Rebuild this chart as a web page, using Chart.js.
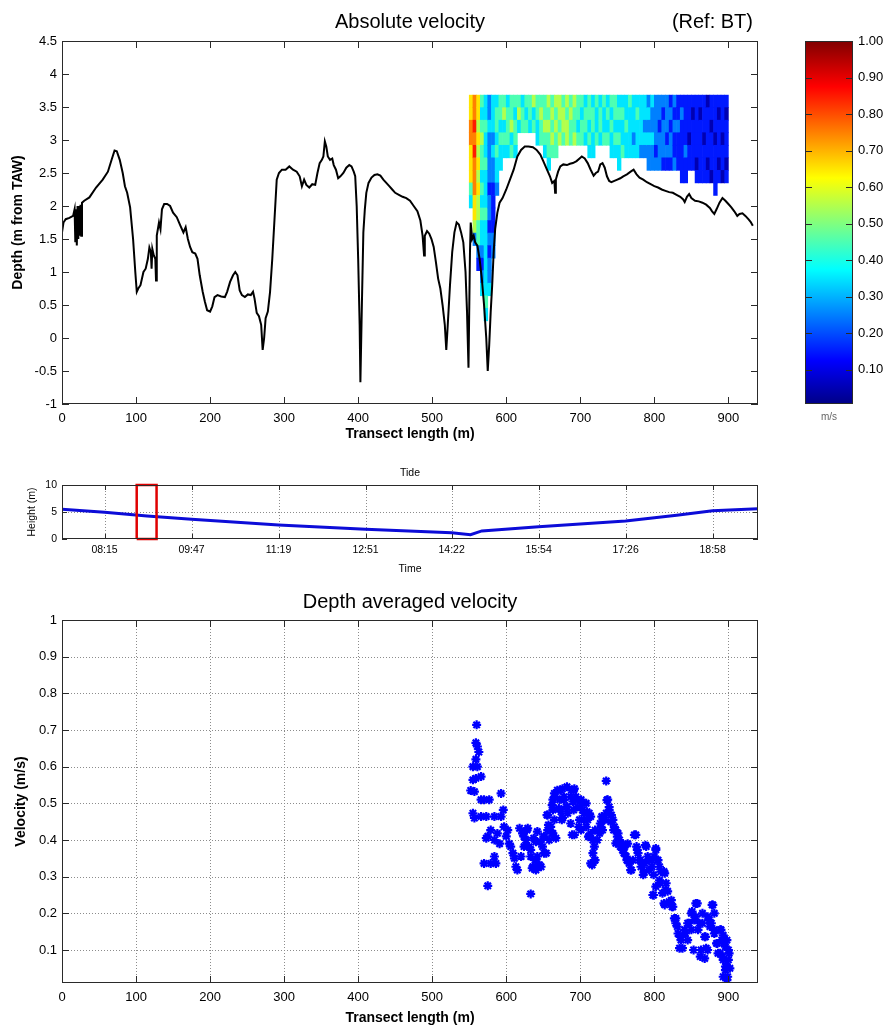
<!DOCTYPE html>
<html>
<head>
<meta charset="utf-8">
<script src="https://cdn.jsdelivr.net/npm/chart.js@4.4.1/dist/chart.umd.min.js"></script>
<style>
  html, body { margin: 0; padding: 0; background: #fff; }
  body { width: 892px; height: 1028px; position: relative; overflow: hidden; }
  .panel { position: absolute; }
</style>
</head>
<body>
<div class="panel" style="left:0;top:0;width:892px;height:450px"><canvas id="depthChart"></canvas></div>
<div class="panel" style="left:790px;top:0;width:102px;height:450px"><canvas id="colorbar"></canvas></div>
<div class="panel" style="left:0;top:455px;width:892px;height:125px"><canvas id="tideChart"></canvas></div>
<div class="panel" style="left:0;top:580px;width:892px;height:448px"><canvas id="avgChart"></canvas></div>
<script>
// ---- bed profile (transect length m, depth m from TAW)
const bedX = [
  0, 2, 5, 10, 15, 17, 18, 19, 20, 21,
  22, 23, 24, 25, 26, 27, 30, 37, 46, 55,
  62, 67, 71, 74, 78, 82, 85, 88, 92, 96,
  99, 101, 103, 106, 110, 113, 116, 118, 120, 121,
  122, 124, 126, 127, 128, 131, 133, 135, 138, 142,
  146, 150, 155, 160, 164, 167, 170, 173, 176, 180,
  183, 186, 190, 193, 196, 200, 203, 206, 210, 215,
  220, 223, 227, 231, 234, 237, 240, 243, 247, 251,
  255, 258, 260, 263, 266, 269, 271, 273, 275, 278,
  281, 284, 287, 290, 293, 297, 302, 307, 312, 317,
  321, 324, 327, 330, 334, 338, 342, 345, 348, 351,
  353, 355, 357, 359, 362, 365, 367, 370, 373, 376,
  380, 384, 388, 391, 394, 396, 398, 400, 402, 403,
  405, 407, 409, 411, 414, 418, 422, 426, 430, 434,
  438, 442, 446, 450, 455, 460, 465, 470, 475, 480,
  484, 487, 489, 490, 493, 496, 499, 502, 505, 508,
  511, 514, 517, 519, 521, 524, 527, 530, 533, 536,
  539, 542, 545, 547, 549, 551, 552, 554, 556, 558,
  561, 564, 567, 570, 573, 575, 577, 579, 581, 583,
  585, 588, 591, 595, 600, 605, 610, 615, 620, 625,
  630, 636, 641, 646, 650, 655, 659, 662, 665, 666,
  667, 670, 673, 677, 682, 686, 690, 695, 699, 702,
  706, 710, 714, 718, 721, 724, 727, 730, 733, 736,
  739, 742, 746, 750, 754, 758, 763, 768, 772, 776,
  780, 785, 790, 795, 800, 805, 810, 815, 820, 825,
  830, 835, 839, 841, 844, 847, 850, 855, 860, 865,
  870, 875, 878, 881, 884, 888, 892, 896, 900, 904,
  908, 912, 915, 919, 923, 927, 930, 933
];
const bedDepth = [
  1.60, 1.75, 1.80, 1.82, 1.85, 1.95, 1.45, 1.95, 1.40, 2.00,
  1.50, 2.00, 1.55, 2.02, 1.55, 2.05, 2.08, 2.13, 2.28, 2.40,
  2.52, 2.70, 2.84, 2.83, 2.70, 2.50, 2.30, 2.20, 1.98, 1.50,
  1.00, 0.70, 0.75, 0.80, 1.00, 1.05, 1.20, 1.37, 1.30, 1.05,
  1.35, 1.25, 1.20, 0.87, 1.55, 1.75, 1.65, 1.95, 2.03, 2.03,
  2.00, 1.90, 1.83, 1.70, 1.60, 1.68, 1.50, 1.38, 1.30, 1.28,
  1.20, 0.95, 0.70, 0.55, 0.42, 0.40, 0.48, 0.62, 0.65, 0.63,
  0.62, 0.70, 0.85, 0.95, 1.00, 0.95, 0.72, 0.65, 0.62, 0.66,
  0.65, 0.70, 0.60, 0.38, 0.33, 0.20, -0.18, 0.00, 0.30, 0.40,
  0.70, 1.20, 1.80, 2.40, 2.50, 2.55, 2.55, 2.60, 2.55, 2.52,
  2.45, 2.30, 2.40, 2.32, 2.28, 2.33, 2.32, 2.50, 2.65, 2.70,
  2.75, 2.98, 2.90, 2.75, 2.70, 2.72, 2.62, 2.55, 2.42, 2.45,
  2.50, 2.58, 2.62, 2.60, 2.52, 2.45, 2.00, 1.20, 0.20, -0.67,
  0.50, 1.60, 1.95, 2.20, 2.35, 2.43, 2.47, 2.48, 2.46, 2.40,
  2.35, 2.30, 2.25, 2.20, 2.17, 2.14, 2.12, 2.08, 2.00, 1.92,
  1.78, 1.55, 1.25, 1.55, 1.62, 1.58, 1.50, 1.38, 1.15, 0.90,
  0.75, 0.50, 0.20, -0.18, 0.20, 0.80, 1.30, 1.60, 1.75, 1.72,
  1.60, 1.45, 1.00, 0.40, -0.45, 1.30, 1.75, 1.50, 1.55, 1.45,
  1.40, 1.20, 0.90, 0.50, 0.00, -0.50, -0.10, 0.40, 0.80, 1.30,
  1.65, 1.90, 2.05, 2.12, 2.25, 2.40, 2.55, 2.75, 2.85, 2.90,
  2.90, 2.89, 2.85, 2.78, 2.68, 2.55, 2.45, 2.35, 2.38, 2.20,
  2.40, 2.52, 2.60, 2.63, 2.62, 2.64, 2.65, 2.68, 2.72, 2.75,
  2.72, 2.65, 2.55, 2.46, 2.50, 2.52, 2.63, 2.65, 2.58, 2.45,
  2.38, 2.36, 2.38, 2.40, 2.42, 2.45, 2.48, 2.52, 2.55, 2.48,
  2.43, 2.40, 2.36, 2.33, 2.30, 2.28, 2.25, 2.23, 2.21, 2.20,
  2.17, 2.14, 2.10, 2.06, 2.14, 2.18, 2.12, 2.08, 2.07, 2.05,
  2.02, 1.97, 1.92, 1.88, 1.95, 2.05, 2.12, 2.08, 2.03, 1.98,
  1.92, 1.85, 1.88, 1.89, 1.85, 1.80, 1.76, 1.70
];

// ---- velocity section: one string per 5 m column starting at 550 m,
// one digit per 0.19 m bin from 3.68 m down; digit d = (d + 0.5) / 10 m/s
const heatStart = 550;
const heatColWidth = 5;
const heatTop = 3.68;
const heatBin = 0.19;
const heatColumns = [
  '667766643', '778787776652', '66565656554421', '4345443434332123',
  '334334333433333343', '2232222122121223', '3332322111122', '34434332',
  '443433', '45343', '34443', '44534', '43443',
  '453', '344', '434', '443', '534',
  '4433', '4544', '44543', '545443', '45454', '54544',
  '5545', '4554', '5455', '4544', '5445', '4434', '4344', '3443',
  '44343', '34433', '4334', '3443', '4334', '3434', '43433', '44343',
  '343433', '34334', '33433', '43333', '33323', '34333', '33332', '33232',
  '232322', '322322', '222212', '221222', '212221', '222121', '121221', '212112',
  '112111', '1211111', '1111211', '111011', '101111', '1111101', '1011111', '1110111',
  '0111101', '1101110', '11101111', '1011101', '1110110', '1011101'
];

// ---- depth averaged velocity
const avgDistance = [
  560, 559, 561, 563, 559, 555, 561, 566, 555, 559, 552, 557, 566, 570, 577, 555, 557, 566, 573, 584,
  593, 596, 593, 579, 575, 573, 588, 584, 591, 597, 602, 600, 604, 584, 570, 579, 586, 575,
  606, 609, 611, 613, 615, 620, 618, 622, 629, 627, 631, 624, 633, 636, 640, 642, 645, 647, 640, 633,
  649, 651, 654, 656, 658, 660, 663, 665, 667, 656, 663, 628, 624, 626, 633, 639, 644, 651, 635, 637,
  642, 646, 651, 655, 657, 662,
  663, 665, 669, 672, 676, 678, 681, 674, 683, 676, 688, 692, 694, 696, 690, 701, 703, 699, 692, 705,
  708, 710, 712, 708, 701, 673, 682, 691, 666, 678, 687, 696, 702, 662, 671, 682, 691, 709, 714, 675,
  687, 698, 705, 689,
  714, 717, 712, 719, 723, 726, 728, 733, 730, 735, 737, 739, 735, 742, 744, 746, 748, 751, 753, 717,
  719, 714, 716, 720, 711, 720, 727, 729, 736, 739, 732, 741, 745, 750, 748, 754, 755, 757, 760, 759,
  762, 764, 766, 769, 771, 773, 776, 778, 780, 782, 785, 787, 789, 791, 793, 796, 800, 802, 805, 807,
  798, 802, 807, 809, 814, 816, 811, 818, 823, 814, 825, 763, 768, 775, 777, 781, 786, 788, 793, 797,
  802, 804, 799, 813, 808, 815, 799, 813, 820, 824,
  827, 829, 832, 834, 836, 841, 845, 850, 854, 856, 859, 861, 863, 868, 870, 872, 875, 879, 881, 884,
  886, 889, 891, 893, 896, 898, 900, 902, 896, 898, 900, 893, 845, 850, 856, 865, 868, 877, 881, 889,
  893, 898, 829, 831, 835, 838, 842, 847, 851, 858, 853, 862, 865, 869, 874, 878, 881, 885, 890, 892,
  896, 899, 901, 894, 872
];
const avgVelocity = [
  0.714, 0.665, 0.655, 0.640, 0.620, 0.600, 0.600, 0.573, 0.564, 0.568, 0.535, 0.532, 0.510, 0.510, 0.510, 0.473, 0.460, 0.464, 0.464, 0.464,
  0.527, 0.482, 0.464, 0.427, 0.410, 0.405, 0.418, 0.400, 0.390, 0.436, 0.427, 0.410, 0.390, 0.355, 0.336, 0.336, 0.336, 0.275,
  0.382, 0.364, 0.350, 0.327, 0.318, 0.355, 0.432, 0.418, 0.432, 0.400, 0.382, 0.382, 0.355, 0.327, 0.395, 0.355, 0.332, 0.327, 0.318, 0.253,
  0.382, 0.410, 0.364, 0.427, 0.400, 0.436, 0.418, 0.455, 0.405, 0.468, 0.482, 0.427, 0.409, 0.386, 0.373, 0.345, 0.332, 0.364, 0.323, 0.405,
  0.423, 0.395, 0.409, 0.468, 0.441, 0.418,
  0.510, 0.527, 0.536, 0.510, 0.540, 0.518, 0.490, 0.477, 0.473, 0.460, 0.536, 0.540, 0.518, 0.490, 0.505, 0.510, 0.482, 0.455, 0.414, 0.473,
  0.436, 0.455, 0.473, 0.500, 0.427, 0.536, 0.545, 0.536, 0.518, 0.509, 0.518, 0.509, 0.500, 0.495, 0.486, 0.491, 0.482, 0.477, 0.464, 0.455,
  0.445, 0.436, 0.455, 0.414,
  0.418, 0.400, 0.410, 0.382, 0.400, 0.418, 0.436, 0.455, 0.427, 0.561, 0.510, 0.490, 0.473, 0.468, 0.455, 0.436, 0.427, 0.418, 0.400, 0.364,
  0.345, 0.336, 0.332, 0.345, 0.409, 0.427, 0.445, 0.464, 0.509, 0.482, 0.455, 0.450, 0.427, 0.409, 0.391, 0.382, 0.390, 0.373, 0.382, 0.364,
  0.355, 0.390, 0.336, 0.318, 0.345, 0.414, 0.382, 0.364, 0.345, 0.327, 0.305, 0.336, 0.382, 0.355, 0.318, 0.345, 0.355, 0.377, 0.345, 0.327,
  0.250, 0.273, 0.290, 0.314, 0.309, 0.282, 0.255, 0.260, 0.236, 0.223, 0.218, 0.345, 0.318, 0.414, 0.373, 0.345, 0.314, 0.386, 0.345, 0.327,
  0.373, 0.345, 0.305, 0.314, 0.282, 0.264, 0.250, 0.227, 0.232, 0.218,
  0.186, 0.173, 0.145, 0.105, 0.127, 0.155, 0.173, 0.200, 0.182, 0.227, 0.155, 0.173, 0.100, 0.077, 0.105, 0.191, 0.164, 0.223, 0.145, 0.118,
  0.091, 0.155, 0.127, 0.073, 0.045, 0.018, 0.073, 0.050, 0.109, 0.127, 0.100, 0.140, 0.127, 0.155, 0.191, 0.200, 0.136, 0.173, 0.200, 0.091,
  0.027, 0.055, 0.186, 0.164, 0.136, 0.105, 0.145, 0.173, 0.205, 0.227, 0.100, 0.082, 0.173, 0.136, 0.182, 0.223, 0.155, 0.118, 0.155, 0.082,
  0.055, 0.027, 0.091, 0.118, 0.100
];

// ---- tide
const tideTimes = ['07:30', '08:15', '09:00', '09:47', '11:19', '12:51', '14:22', '14:42', '14:54', '15:54', '17:26', '18:20', '18:58', '19:46'];
const tideHeights = [5.5, 4.94, 4.25, 3.64, 2.6, 1.8, 1.15, 0.8, 1.5, 2.28, 3.33, 4.4, 5.24, 5.6];
const tideRange = ['07:30', '19:46'];
const transectWindow = ['08:49', '09:10'];

// ---- ticks
const depthTicksX = [0, 100, 200, 300, 400, 500, 600, 700, 800, 900];
const depthTicksY = [-1, -0.5, 0, 0.5, 1, 1.5, 2, 2.5, 3, 3.5, 4, 4.5];
const velocityTicksY = [0.1, 0.2, 0.3, 0.4, 0.5, 0.6, 0.7, 0.8, 0.9, 1];
const tideTickLabels = ['08:15', '09:47', '11:19', '12:51', '14:22', '15:54', '17:26', '18:58'];
const tideTicksY = [0, 5, 10];
const colorbarTicks = [0.1, 0.2, 0.3, 0.4, 0.5, 0.6, 0.7, 0.8, 0.9, 1.0];
const jetStops = [0, 0.125, 0.375, 0.625, 0.875, 1];

const FONT = '"Liberation Sans", Arial, Helvetica, sans-serif';
Chart.defaults.font.family = FONT;
Chart.defaults.color = '#000';
Chart.defaults.animation = false;
Chart.defaults.plugins.legend.display = false;
Chart.defaults.plugins.tooltip.enabled = false;

function jetColor(v) {
  const ch = a => Math.round(255 * Math.max(0, Math.min(1, a)));
  return `rgb(${ch(Math.min(4 * v - 1.5, -4 * v + 4.5))},${ch(Math.min(4 * v - 0.5, -4 * v + 3.5))},${ch(Math.min(4 * v + 0.5, -4 * v + 2.5))})`;
}
const toMinutes = s => { const [h, m] = s.split(':').map(Number); return h * 60 + m; };
const toClock = v => String(Math.floor(v / 60)).padStart(2, '0') + ':' + String(Math.round(v % 60)).padStart(2, '0');

// title text above the plot box, centred on it
const panelTitle = {
  id: 'panelTitle',
  afterDraw(chart, args, opts) {
    const { ctx, chartArea: a } = chart;
    ctx.save();
    ctx.fillStyle = '#000';
    ctx.font = `${opts.size}px ${FONT}`;
    ctx.textBaseline = 'middle';
    ctx.textAlign = 'center';
    ctx.fillText(opts.text, (a.left + a.right) / 2, a.top - opts.offset);
    if (opts.note) {
      ctx.textAlign = 'right';
      ctx.fillText(opts.note, a.right - 5, a.top - opts.offset);
    }
    ctx.restore();
  }
};

// matlab look: dotted grid, inward ticks on all sides, box
const matlabAxes = {
  id: 'matlabAxes',
  beforeDatasetsDraw(chart, args, opts) {
    if (!opts.gridX && !opts.gridY) return;
    const { ctx, chartArea: a, scales: { x, y } } = chart;
    ctx.save();
    ctx.strokeStyle = '#8c8c8c';
    ctx.lineWidth = 1;
    ctx.setLineDash([1, 2]);
    ctx.beginPath();
    if (opts.gridX) x.ticks.forEach(t => {
      const px = Math.round(x.getPixelForValue(t.value)) + 0.5;
      if (px > a.left + 1 && px < a.right - 1) { ctx.moveTo(px, a.top); ctx.lineTo(px, a.bottom); }
    });
    if (opts.gridY) y.ticks.forEach(t => {
      const py = Math.round(y.getPixelForValue(t.value)) + 0.5;
      if (py > a.top + 1 && py < a.bottom - 1) { ctx.moveTo(a.left, py); ctx.lineTo(a.right, py); }
    });
    ctx.stroke();
    ctx.restore();
  },
  afterDatasetsDraw(chart, args, opts) {
    const { ctx, chartArea: a, scales: { x, y } } = chart;
    const L = opts.tickLength;
    ctx.save();
    ctx.strokeStyle = '#2a2a2a';
    ctx.lineWidth = 1;
    ctx.beginPath();
    if (opts.xTicks !== false) x.ticks.forEach(t => {
      const px = Math.round(x.getPixelForValue(t.value)) + 0.5;
      ctx.moveTo(px, a.bottom); ctx.lineTo(px, a.bottom - L);
      ctx.moveTo(px, a.top); ctx.lineTo(px, a.top + L);
    });
    y.ticks.forEach(t => {
      const py = Math.round(y.getPixelForValue(t.value)) + 0.5;
      ctx.moveTo(a.left, py); ctx.lineTo(a.left + L, py);
      ctx.moveTo(a.right, py); ctx.lineTo(a.right - L, py);
    });
    ctx.stroke();
    ctx.strokeRect(Math.round(a.left) + 0.5, Math.round(a.top) + 0.5, Math.round(a.width) - 1, Math.round(a.height) - 1);
    ctx.restore();
  }
};

function xAxis(min, max, ticks, height, title, labelSize, labelPad, titleSize, titlePad, format) {
  return {
    type: 'linear', min, max, offset: false,
    afterBuildTicks: s => { s.ticks = ticks.map(v => ({ value: v })); },
    afterFit: s => { s.height = height; },
    grid: { display: false, drawTicks: false, offset: false },
    border: { display: false },
    ticks: { autoSkip: false, maxRotation: 0, padding: labelPad, font: { size: labelSize }, callback: format || (v => String(v)) },
    title: { display: true, text: title, font: { size: titleSize, weight: titleSize > 12 ? 'bold' : 'normal' }, padding: { top: 0, bottom: titlePad } }
  };
}
function yAxis(min, max, ticks, width, title, labelSize, titleSize, titlePad) {
  return {
    type: 'linear', min, max,
    afterBuildTicks: s => { s.ticks = ticks.map(v => ({ value: v })); },
    afterFit: s => { s.width = width; },
    grid: { display: false, drawTicks: false },
    border: { display: false },
    ticks: { autoSkip: false, padding: 5, font: { size: labelSize }, callback: v => String(v) },
    title: { display: true, text: title, font: { size: titleSize, weight: titleSize > 12 ? 'bold' : 'normal' }, padding: { top: titlePad, bottom: 0 } }
  };
}

// ---- absolute velocity section
const bedPoints = bedX.map((x, i) => ({ x, y: bedDepth[i] }));
const heatCells = [];
heatColumns.forEach((col, c) => {
  const xc = heatStart + (c + 0.5) * heatColWidth;
  [...col].forEach((ch, r) => {
    const top = heatTop - r * heatBin;
    heatCells.push({ x: xc, y: [top - heatBin, top], v: (Number(ch) + 0.5) / 10 });
  });
});

new Chart(document.getElementById('depthChart'), {
  type: 'line',
  data: {
    datasets: [
      { type: 'line', data: bedPoints, borderColor: '#000', borderWidth: 2, pointRadius: 0, tension: 0, order: 1 },
      {
        type: 'bar', data: heatCells, borderWidth: 0, barPercentage: 1, categoryPercentage: 1, order: 2,
        backgroundColor: c => (c.raw ? jetColor(c.raw.v) : 'transparent')
      }
    ]
  },
  options: {
    responsive: true, maintainAspectRatio: false,
    layout: { padding: { top: 41, right: 134, bottom: 0, left: 0 } },
    scales: {
      x: xAxis(0, 940, depthTicksX, 46, 'Transect length (m)', 13, 7, 14, 7),
      y: yAxis(-1, 4.5, depthTicksY, 62, 'Depth (m from TAW)', 13, 14, 10)
    },
    plugins: {
      panelTitle: { text: 'Absolute velocity', note: '(Ref: BT)', size: 20, offset: 19 },
      matlabAxes: { tickLength: 7 }
    }
  },
  plugins: [panelTitle, matlabAxes]
});

// ---- colour bar
new Chart(document.getElementById('colorbar'), {
  type: 'bar',
  data: {
    labels: ['m/s'],
    datasets: [{
      data: [[0, 1]], borderWidth: 0, barPercentage: 1, categoryPercentage: 1,
      backgroundColor: c => {
        const { chart } = c;
        if (!chart.chartArea) return '#00f';
        const ys = chart.scales.y;
        const g = chart.ctx.createLinearGradient(0, ys.getPixelForValue(0), 0, ys.getPixelForValue(1));
        jetStops.forEach(s => g.addColorStop(s, jetColor(s)));
        return g;
      }
    }]
  },
  options: {
    responsive: true, maintainAspectRatio: false,
    layout: { padding: { top: 41, right: 0, bottom: 0, left: 15 } },
    scales: {
      x: {
        afterFit: s => { s.height = 46; },
        grid: { display: false, drawTicks: false }, border: { display: false },
        ticks: { display: false },
        title: { display: true, text: 'm/s', color: '#666', font: { size: 10 }, padding: { top: 0, bottom: 27 } }
      },
      y: {
        position: 'right', min: 0.006, max: 1,
        afterBuildTicks: s => { s.ticks = colorbarTicks.map(v => ({ value: v })); },
        afterFit: s => { s.width = 39; },
        grid: { display: false, drawTicks: false }, border: { display: false },
        ticks: { padding: 5, font: { size: 13 }, callback: v => v.toFixed(2) }
      }
    },
    plugins: { matlabAxes: { tickLength: 7, xTicks: false } }
  },
  plugins: [matlabAxes]
});

// ---- tide
const tidePoints = tideTimes.map((t, i) => ({ x: toMinutes(t), y: tideHeights[i] }));
const [w0, w1] = transectWindow.map(toMinutes);
const windowBox = [{ x: w0, y: 0 }, { x: w0, y: 10 }, { x: w1, y: 10 }, { x: w1, y: 0 }, { x: w0, y: 0 }];

new Chart(document.getElementById('tideChart'), {
  type: 'line',
  data: {
    datasets: [
      { data: windowBox, borderColor: '#e00000', borderWidth: 2.5, pointRadius: 0, tension: 0, clip: 3, order: 0 },
      { data: tidePoints, borderColor: '#0c0cd8', borderWidth: 3, pointRadius: 0, tension: 0, order: 1 }
    ]
  },
  options: {
    responsive: true, maintainAspectRatio: false,
    layout: { padding: { top: 30, right: 134, bottom: 0, left: 0 } },
    scales: {
      x: xAxis(toMinutes(tideRange[0]), toMinutes(tideRange[1]), tideTickLabels.map(toMinutes), 41, 'Time', 10.5, 5, 10.5, 5, v => toClock(v)),
      y: yAxis(0, 10, tideTicksY, 62, 'Height (m)', 10.5, 10.5, 26)
    },
    plugins: {
      panelTitle: { text: 'Tide', size: 10.5, offset: 12 },
      matlabAxes: { tickLength: 5, gridX: true, gridY: true }
    }
  },
  plugins: [panelTitle, matlabAxes]
});

// ---- depth averaged velocity
const avgPoints = avgDistance.map((x, i) => ({ x, y: avgVelocity[i] }));

new Chart(document.getElementById('avgChart'), {
  type: 'scatter',
  data: {
    datasets: [{
      data: avgPoints, pointStyle: 'star', pointRadius: 4.5, borderWidth: 2.2,
      borderColor: '#0000ff', backgroundColor: '#0000ff'
    }]
  },
  options: {
    responsive: true, maintainAspectRatio: false,
    layout: { padding: { top: 40, right: 134, bottom: 0, left: 0 } },
    scales: {
      x: xAxis(0, 940, depthTicksX, 45, 'Transect length (m)', 13, 7, 14, 1),
      y: yAxis(0.01, 1, velocityTicksY, 62, 'Velocity (m/s)', 13, 14, 13)
    },
    plugins: {
      panelTitle: { text: 'Depth averaged velocity', size: 20, offset: 18 },
      matlabAxes: { tickLength: 7, gridX: true, gridY: true }
    }
  },
  plugins: [panelTitle, matlabAxes]
});
</script>
</body>
</html>
